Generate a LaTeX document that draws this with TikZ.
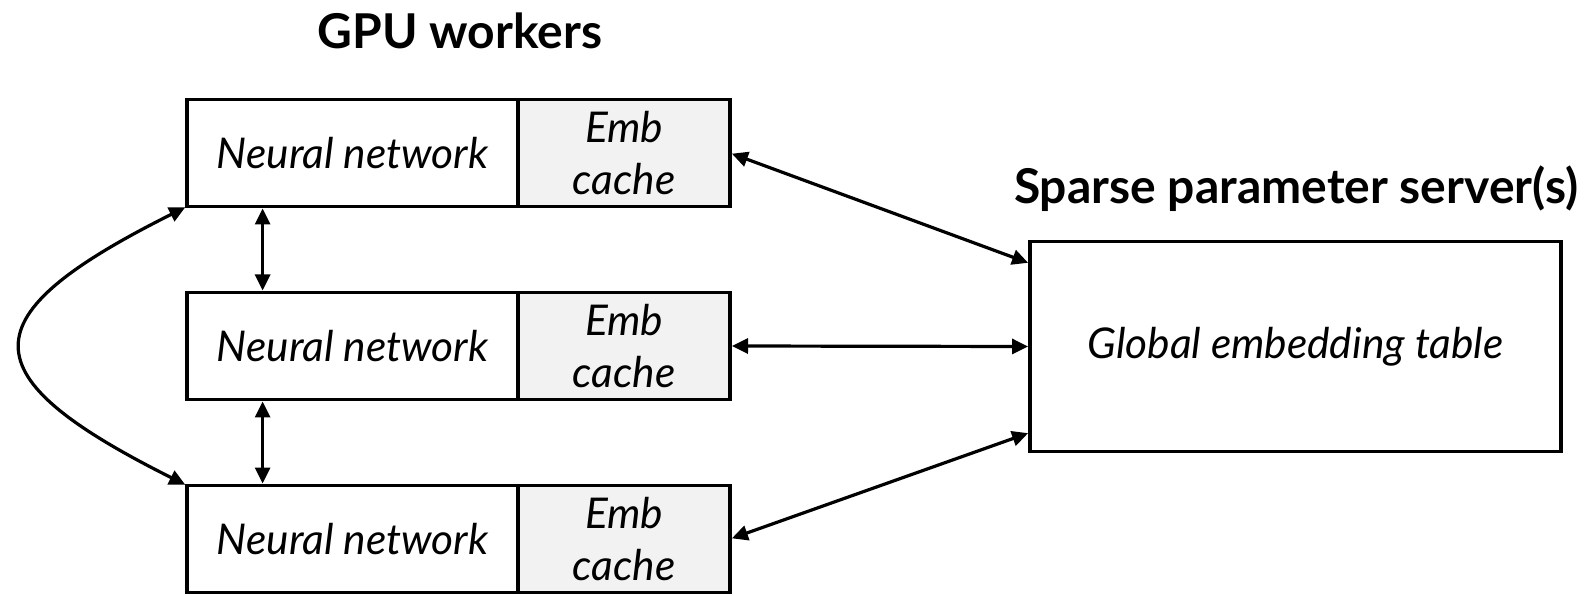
\documentclass[tikz,border=0pt]{standalone}
\usepackage{fontspec}
\setmainfont{Lato}
\usepackage{xcolor}
\usepackage{tikz}
\usetikzlibrary{positioning,arrows.meta}

\definecolor{cachegray}{HTML}{F2F2F2}

\begin{document}
\begin{tikzpicture}[<->,>={Triangle[length=8pt,width=7.5pt]},shorten >=1pt,shorten <=1pt,
                    line width=1.6pt,
                    nnbox/.style={draw,outer sep=0pt,minimum width=165.5pt,minimum height=53.5pt,
                                  font=\fontsize{21.2}{26}\selectfont\itshape},
                    cachebox/.style={draw,fill=cachegray,outer sep=0pt,minimum width=106pt,
                                     minimum height=53.5pt,align=center,
                                     font=\fontsize{21.2}{26}\selectfont\itshape},
                    title/.style={font=\fontsize{24}{28}\selectfont\bfseries}]
    \useasboundingbox (0pt,-0.75pt) rectangle (792pt,296.75pt);

    \node[title] (gpu) at (230pt,281.3pt) {GPU workers};
    \node[title] (sps) at (648pt,202.5pt) {Sparse parameter server(s)};

    \node[nnbox] (nn1) at (176.25pt,220.25pt) {Neural network};
    \node[nnbox] (nn2) [below=43pt of nn1] {Neural network};
    \node[nnbox] (nn3) [below=43pt of nn2] {Neural network};
    \node[cachebox] (c1) [right=0pt of nn1] {Emb\\cache};
    \node[cachebox] (c2) [right=0pt of nn2] {Emb\\cache};
    \node[cachebox] (c3) [right=0pt of nn3] {Emb\\cache};

    \node[draw,outer sep=0pt,minimum width=265.5pt,minimum height=105pt,
          font=\fontsize{21.2}{26}\selectfont\itshape] (srv) at (647.75pt,123.5pt)
          {Global embedding table};

    \draw ([xshift=37.8pt]nn1.south west) -- ([xshift=37.8pt]nn2.north west);
    \draw ([xshift=37.8pt]nn2.south west) -- ([xshift=37.8pt]nn3.north west);
    \draw (nn1.south west) .. controls +(-110pt,-55pt) and +(-110pt,55pt) .. (nn3.north west);

    \draw (c1.east) -- ([yshift=-11pt]srv.north west);
    \draw (c2.east) -- (srv.west);
    \draw (c3.east) -- ([yshift=9.5pt]srv.south west);
\end{tikzpicture}
\end{document}
